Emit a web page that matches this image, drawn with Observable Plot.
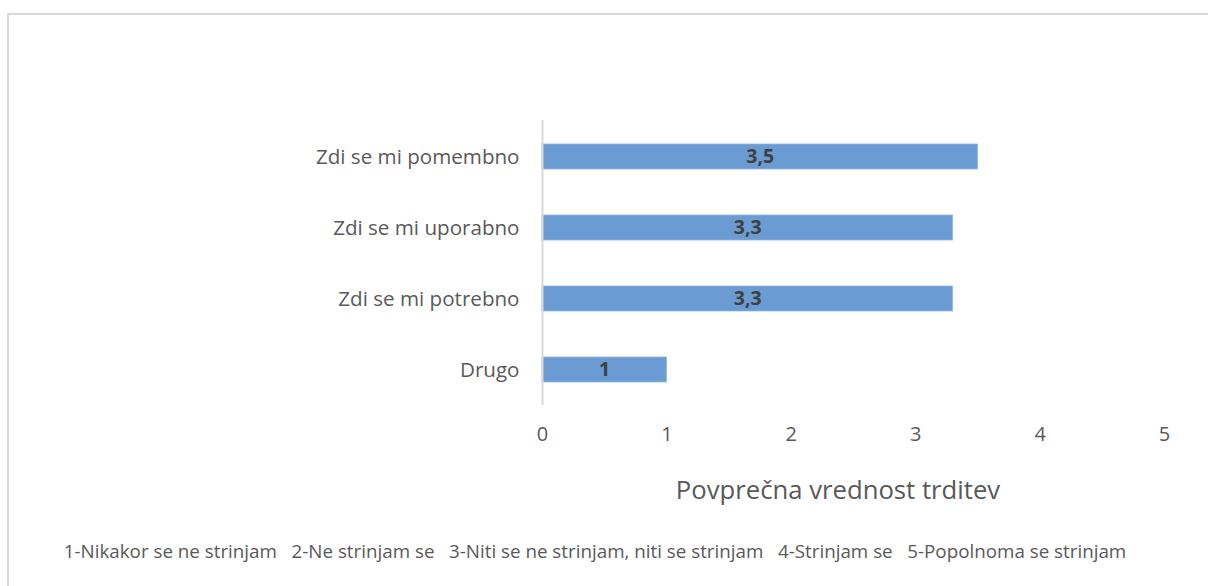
<!DOCTYPE html>
<html>
<head>
<meta charset="utf-8">
<script src="https://cdn.jsdelivr.net/npm/d3@7"></script>
<script src="https://cdn.jsdelivr.net/npm/@observablehq/plot@0.6"></script>
<style>
  html, body { margin: 0; padding: 0; background: #fff; }
  body { width: 1208px; height: 586px; position: relative; overflow: hidden; font-family: "Open Sans", Lato, sans-serif; }
  #frame { position: absolute; left: 7px; top: 13px; width: 1260px; height: 640px; border-left: 2px solid #d9d9d9; border-top: 2px solid #d9d9d9; }
  #chart { position: absolute; left: 0; top: 0; }
  #xtitle { position: absolute; left: 538px; width: 600px; top: 472px; text-align: center; font-size: 25.7px; color: #595959; }
  #legend { position: absolute; left: 0; width: 1190px; top: 538px; text-align: center; font-size: 18.8px; color: #595959; white-space: pre; }
</style>
</head>
<body>
<div id="frame"></div>
<div id="chart"></div>
<div id="xtitle"></div>
<div id="legend"></div>
<script>
const categories = ["Zdi se mi pomembno", "Zdi se mi uporabno", "Zdi se mi potrebno", "Drugo"];
const values = [3.5, 3.3, 3.3, 1];
const valueLabels = ["3,5", "3,3", "3,3", "1"];
const xTicks = [0, 1, 2, 3, 4, 5];
const xTitle = "Povprečna vrednost trditev";
const legendItems = ["1-Nikakor se ne strinjam", "2-Ne strinjam se", "3-Niti se ne strinjam, niti se strinjam", "4-Strinjam se", "5-Popolnoma se strinjam"];

const data = categories.map((c, i) => ({ category: c, value: values[i], label: valueLabels[i] }));

const chart = Plot.plot({
  width: 1208,
  height: 586,
  marginLeft: 542,
  marginRight: 44,
  marginTop: 120,
  marginBottom: 181,
  style: { fontFamily: "'Open Sans', Lato, sans-serif", color: "#595959", background: "transparent" },
  x: { domain: [0, 5] },
  y: { domain: categories, paddingInner: 0.65, paddingOuter: 0.325 },
  marks: [
    Plot.barX(data, { x: "value", y: "category", fill: "#6b9bd3", stroke: "#8fb4e0", strokeWidth: 0.8 }),
    Plot.ruleX([0], { stroke: "#d9d9d9", strokeWidth: 2 }),
    Plot.text(data, { x: d => d.value / 2, y: "category", text: "label", fill: "#404040", fontWeight: "bold", fontSize: 19.5 }),
    Plot.axisY({ tickSize: 0, tickPadding: 23, fontSize: 20.6, label: null, fill: "#595959" }),
    Plot.axisX({ ticks: xTicks, tickFormat: "d", tickSize: 0, tickPadding: 21, fontSize: 20, label: null, fill: "#595959" })
  ]
});
document.getElementById("chart").appendChild(chart);
document.getElementById("xtitle").textContent = xTitle;
document.getElementById("legend").textContent = legendItems.join("   ");
</script>
</body>
</html>
